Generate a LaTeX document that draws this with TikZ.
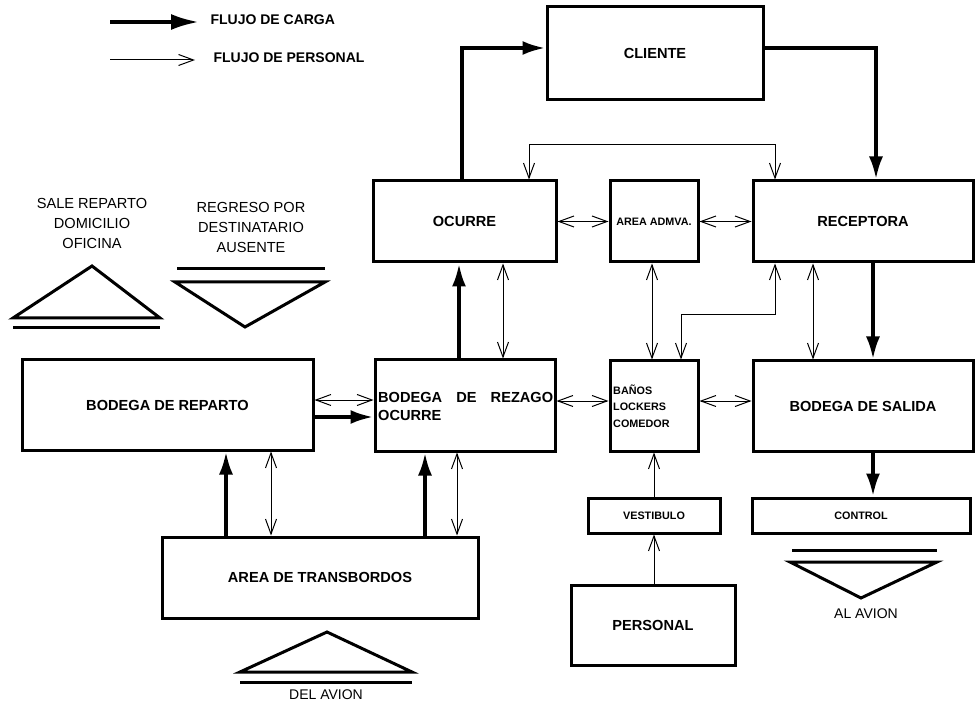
\documentclass[tikz,border=0pt]{standalone}
\usepackage{fontspec}
\setmainfont{Liberation Sans}
\usetikzlibrary{arrows.meta}
\begin{document}
\begin{tikzpicture}[x=1pt,y=-1pt,
  box/.style={draw, line width=3pt, inner sep=0pt, font=\bfseries\fontsize{14.6}{17}\selectfont},
  smallbox/.style={draw, line width=3pt, inner sep=0pt, font=\bfseries\fontsize{10.8}{13}\selectfont},
  carga/.style={line width=3.8pt, -{Latex[length=23pt,width=14pt]}},
  personal/.style={line width=1pt, {Straight Barb[length=15pt,width=11pt]}-{Straight Barb[length=15pt,width=11pt]}},
  personalone/.style={line width=1pt, -{Straight Barb[length=15pt,width=11pt]}},
  tri/.style={line width=3pt, line join=miter},
  legendtxt/.style={anchor=west, font=\bfseries\fontsize{14}{16}\selectfont},
  plain/.style={align=center, font=\fontsize{14.6}{20}\selectfont}]
\useasboundingbox (0,0) rectangle (975,711);

% legend
\coordinate (lc1) at (110,22); \coordinate (lc2) at (199,22);
\coordinate (lp1) at (110,60); \coordinate (lp2) at (195,60);
\draw[carga, -{Latex[length=28pt,width=16pt]}] (lc1) -- (lc2);
\draw[personalone] (lp1) -- (lp2);
\node[legendtxt] (lt1) at (207,20) {FLUJO DE CARGA};
\node[legendtxt] (lt2) at (210,58) {FLUJO DE PERSONAL};

% boxes
\node[box, minimum width=216pt, minimum height=93pt] (cliente) at (655,53.5) {CLIENTE};
\node[box, minimum width=183pt, minimum height=81pt] (ocurre) at (464.5,221.5) {OCURRE};
\node[smallbox, minimum width=88pt, minimum height=81pt] (admva) at (654,221.5) {AREA ADMVA.};
\node[box, minimum width=220pt, minimum height=81pt] (receptora) at (863,221.5) {RECEPTORA};
\node[box, minimum width=291pt, minimum height=90pt] (reparto) at (167.5,405) {BODEGA DE REPARTO};
\node[box, minimum width=180pt, minimum height=91pt] (rezago) at (465,405.5) {};
\node[smallbox, minimum width=88pt, minimum height=90pt] (banos) at (654,406) {};
\node[box, minimum width=220pt, minimum height=90pt] (salida) at (863,406) {BODEGA DE SALIDA};
\node[box, minimum width=316pt, minimum height=81pt] (transb) at (320,577.5) {AREA DE TRANSBORDOS};
\node[smallbox, minimum width=132pt, minimum height=35pt] (vest) at (654,515.5) {VESTIBULO};
\node[smallbox, minimum width=218pt, minimum height=35pt] (control) at (861,515.5) {CONTROL};
\node[box, minimum width=164pt, minimum height=80pt] (personal) at (653,625) {PERSONAL};

\node[anchor=west, align=left, inner sep=0pt, font=\bfseries\fontsize{14.6}{18}\selectfont] (rezagotxt) at (378,406)
  {\makebox[175pt][s]{BODEGA DE REZAGO}\\OCURRE};
\node[anchor=west, align=left, inner sep=0pt, font=\bfseries\fontsize{10.8}{16.5}\selectfont] (banostxt) at (613,406)
  {BAÑOS\\LOCKERS\\COMEDOR};

% carga arrows
\draw[carga] ([xshift=-2.5pt]ocurre.north) |- ([yshift=5.5pt]cliente.west);
\draw[carga] ([yshift=5.5pt]cliente.east) -| ([xshift=13pt]receptora.north);
\draw[carga] ([xshift=10pt]receptora.south) -- ([xshift=10pt]salida.north);
\draw[carga] ([xshift=10pt]salida.south) -- ([xshift=10pt]salida.south |- control.north);
\draw[carga] ([xshift=-6pt]rezago.north) -- ([xshift=-6pt]rezago.north |- ocurre.south);
\draw[carga] ([yshift=-12pt]reparto.east) -- ([yshift=-12pt]reparto.east -| rezago.west);
\draw[carga] ([xshift=-94pt]transb.north) -- ([xshift=-94pt]transb.north |- reparto.south);
\draw[carga] ([xshift=105pt]transb.north) -- ([xshift=105pt]transb.north |- rezago.south);

% personal arrows
\draw[personal] ([xshift=64.5pt]ocurre.north) -- ([xshift=64.5pt,yshift=34.5pt]ocurre.north) -| ([xshift=-88pt]receptora.north);
\draw[personal] (ocurre.east) -- (admva.west);
\draw[personal] (admva.east) -- (receptora.west);
\draw[personal] ([xshift=38.5pt]ocurre.south) -- ([xshift=38.5pt]ocurre.south |- rezago.north);
\draw[personal] ([xshift=-2pt]admva.south) -- ([xshift=-2pt]admva.south |- banos.north);
\draw[personal] ([xshift=-88pt]receptora.south) -- ([xshift=-88pt,yshift=-51pt]receptora.south) -| ([xshift=27pt]banos.north);
\draw[personal] ([xshift=-50pt]receptora.south) -- ([xshift=-50pt]receptora.south |- salida.north);
\draw[personal] ([yshift=4.5pt]rezago.east) -- ([yshift=4.5pt]rezago.east -| banos.west);
\draw[personal] ([yshift=5pt]banos.east) -- ([yshift=5pt]banos.east -| salida.west);
\draw[personal] ([yshift=5pt]reparto.east) -- ([yshift=5pt]reparto.east -| rezago.west);
\draw[personal] ([xshift=-49pt]transb.north) -- ([xshift=-49pt]transb.north |- reparto.south);
\draw[personal] ([xshift=137pt]transb.north) -- ([xshift=137pt]transb.north |- rezago.south);
\draw[personalone] (vest.north) -- (vest.north |- banos.south);
\draw[personalone] (personal.north -| vest.north) -- (vest.south);

% triangles
\draw[tri] (13,318) -- (92,266) -- (160,318) -- cycle;
\draw[tri] (13,328) -- (160,328);
\draw[tri] (177,269) -- (325,269);
\draw[tri] (175,282) -- (325,282) -- (245,327) -- cycle;
\draw[tri] (240,672) -- (327,632) -- (412,672) -- cycle;
\draw[tri] (240,682) -- (412,682);
\draw[tri] (792,550) -- (937,550);
\draw[tri] (790,562) -- (937,562) -- (861,598) -- cycle;

\node[plain] (sale) at (92,223) {SALE REPARTO\\DOMICILIO\\OFICINA};
\node[plain] (regreso) at (251,227) {REGRESO POR\\DESTINATARIO\\AUSENTE};
\node[plain, font=\fontsize{14}{16}\selectfont] (delavion) at (326,695) {DEL AVION};
\node[plain, font=\fontsize{14}{16}\selectfont] (alavion) at (866,614) {AL AVION};
\end{tikzpicture}
\end{document}
